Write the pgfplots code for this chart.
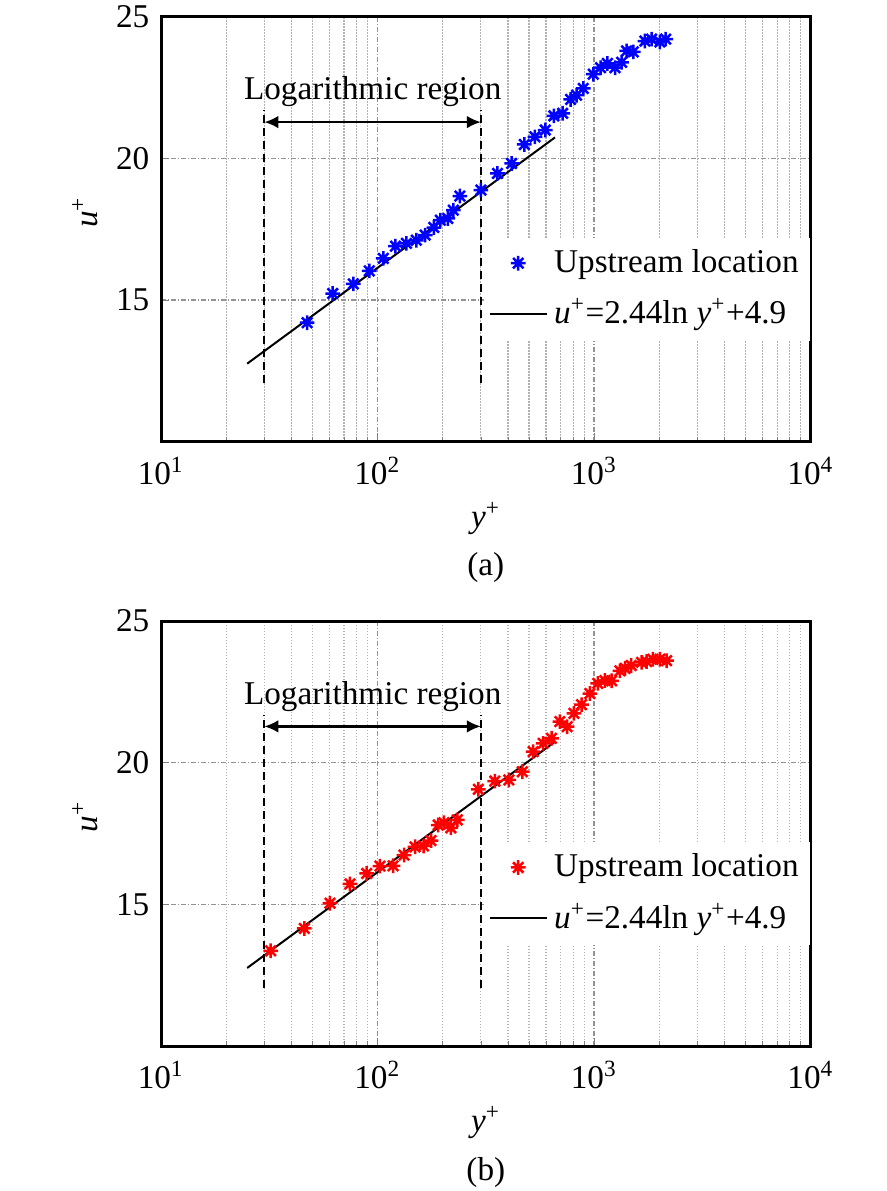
\documentclass[border=0pt]{standalone}
\usepackage{fontspec}
\setmainfont{Liberation Serif}
\usepackage{pgfplots}
\pgfplotsset{compat=1.18}
\usepackage{pgfplotstable}
\usetikzlibrary{arrows.meta}

\pgfdeclareplotmark{mstar}{%
  \pgfpathmoveto{\pgfpointpolar{0}{\pgfplotmarksize}}\pgfpathlineto{\pgfpointpolar{180}{\pgfplotmarksize}}%
  \pgfpathmoveto{\pgfpointpolar{90}{\pgfplotmarksize}}\pgfpathlineto{\pgfpointpolar{270}{\pgfplotmarksize}}%
  \pgfpathmoveto{\pgfpointpolar{45}{\pgfplotmarksize}}\pgfpathlineto{\pgfpointpolar{225}{\pgfplotmarksize}}%
  \pgfpathmoveto{\pgfpointpolar{135}{\pgfplotmarksize}}\pgfpathlineto{\pgfpointpolar{315}{\pgfplotmarksize}}%
  \pgfusepathqstroke}

\pgfplotstableread{
x y
47.3 14.2
62.1 15.23
77.3 15.57
91.6 16.03
106.3 16.47
121 16.90
136 17.0
151 17.11
166 17.29
182 17.56
195 17.82
211 17.88
224 18.17
240 18.67
300 18.88
358 19.47
416 19.82
476 20.49
533 20.76
595 21.0
652 21.50
716 21.59
779 22.08
830 22.23
891 22.47
991 22.97
1071 23.20
1151 23.35
1249 23.20
1340 23.39
1413 23.79
1517 23.76
1717 24.14
1842 24.21
2013 24.11
2141 24.21
}\dataA

\pgfplotstableread{
x y
32.1 13.36
45.9 14.15
60.3 15.04
74.6 15.72
89.1 16.09
102.6 16.35
118 16.36
132.5 16.74
149 17.03
163 17.06
176.6 17.25
190.7 17.80
202.6 17.88
218 17.70
233.5 17.98
292 19.06
348 19.35
404 19.39
466 19.68
523 20.39
582 20.68
636 20.86
695 21.45
751 21.27
807 21.74
875 22.05
956 22.44
1040 22.80
1122 22.90
1205 22.89
1316 23.24
1390 23.33
1484 23.43
1656 23.54
1750 23.57
1870 23.65
2013 23.65
2161 23.60
}\dataB

\begin{document}
\begin{tikzpicture}
\path[use as bounding box] (-48.3bp,132.51bp) rectangle (217.5bp,-224.79bp);

\begin{axis}[xmode=log, scale only axis, width=194.9bp, height=127.5bp,
    xmin=10, xmax=10000, ymin=10, ymax=25,
    clip=false, at={(0bp,0bp)}, anchor=south west,
    xtick={10,100,1000,10000},
    xticklabels={10\textsuperscript{1},10\textsuperscript{2},10\textsuperscript{3},10\textsuperscript{4}},
    minor xtick={20,30,40,50,60,70,80,90,200,300,400,500,600,700,800,900,2000,3000,4000,5000,6000,7000,8000,9000},
    ytick={15,20,25},
    yticklabels={15,20,25},
    tick pos=left, tick align=inside,
    xmajorgrids, xminorgrids, ymajorgrids,
    major grid style={gray!85, line width=0.45bp, dash pattern=on 1.5bp off 0.6bp on 0.3bp off 0.6bp},
    minor grid style={black!30, line width=0.35bp, dash pattern=on 0.4bp off 0.5bp},
    axis line style={line width=0.9bp},
    major tick length=2.5bp, minor tick length=1.5bp,
    xlabel={\textit{y}\textsuperscript{+}},
    ylabel={\textit{u}\textsuperscript{+}},
    xlabel style={at={(axis description cs:0.5,-0.18)}, anchor=center},
    ylabel style={at={(axis description cs:-0.117,0.54)}, anchor=center},
    xticklabel style={yshift=-1bp},
    legend cell align=left,
    legend style={at={(0.496,0.482)}, anchor=north west, draw=none, fill=white,
      inner sep=1.5bp, row sep=2.5bp}]
\addplot[forget plot, black, line width=0.6bp, dash pattern=on 2.4bp off 1.5bp] coordinates {(30,12.06) (30,21.7)};
\addplot[forget plot, black, line width=0.6bp, dash pattern=on 2.4bp off 1.5bp] coordinates {(300,12.06) (300,21.7)};
\addplot[forget plot, black, line width=0.7bp, {Latex[length=4.2bp,width=3.8bp]}-{Latex[length=4.2bp,width=3.8bp]}] coordinates {(30,21.28) (300,21.28)};
\addplot[only marks, mark=mstar, mark size=2.2bp, blue, line width=0.75bp] table[x=x,y=y] {\dataA};
\addlegendentry{Upstream location}
\addplot[black, line width=0.6bp] coordinates {(25,12.754) (660,20.74)};
\addlegendentry{\textit{u}\textsuperscript{+}=2.44ln \textit{y}\textsuperscript{+}+4.9}
\node at (axis cs:95,22.35) {Logarithmic region};
\node at (rel axis cs:0.5,-0.297) {(a)};
\end{axis}

\begin{axis}[xmode=log, scale only axis, width=194.9bp, height=127.5bp,
    xmin=10, xmax=10000, ymin=10, ymax=25,
    clip=false, at={(0bp,-181.29bp)}, anchor=south west,
    xtick={10,100,1000,10000},
    xticklabels={10\textsuperscript{1},10\textsuperscript{2},10\textsuperscript{3},10\textsuperscript{4}},
    minor xtick={20,30,40,50,60,70,80,90,200,300,400,500,600,700,800,900,2000,3000,4000,5000,6000,7000,8000,9000},
    ytick={15,20,25},
    yticklabels={15,20,25},
    tick pos=left, tick align=inside,
    xmajorgrids, xminorgrids, ymajorgrids,
    major grid style={gray!85, line width=0.45bp, dash pattern=on 1.5bp off 0.6bp on 0.3bp off 0.6bp},
    minor grid style={black!30, line width=0.35bp, dash pattern=on 0.4bp off 0.5bp},
    axis line style={line width=0.9bp},
    major tick length=2.5bp, minor tick length=1.5bp,
    xlabel={\textit{y}\textsuperscript{+}},
    ylabel={\textit{u}\textsuperscript{+}},
    xlabel style={at={(axis description cs:0.5,-0.18)}, anchor=center},
    ylabel style={at={(axis description cs:-0.117,0.54)}, anchor=center},
    xticklabel style={yshift=-1bp},
    legend cell align=left,
    legend style={at={(0.496,0.482)}, anchor=north west, draw=none, fill=white,
      inner sep=1.5bp, row sep=2.5bp}]
\addplot[forget plot, black, line width=0.6bp, dash pattern=on 2.4bp off 1.5bp] coordinates {(30,12.06) (30,21.7)};
\addplot[forget plot, black, line width=0.6bp, dash pattern=on 2.4bp off 1.5bp] coordinates {(300,12.06) (300,21.7)};
\addplot[forget plot, black, line width=0.7bp, {Latex[length=4.2bp,width=3.8bp]}-{Latex[length=4.2bp,width=3.8bp]}] coordinates {(30,21.28) (300,21.28)};
\addplot[only marks, mark=mstar, mark size=2.2bp, red, line width=0.75bp] table[x=x,y=y] {\dataB};
\addlegendentry{Upstream location}
\addplot[black, line width=0.6bp] coordinates {(25,12.754) (660,20.74)};
\addlegendentry{\textit{u}\textsuperscript{+}=2.44ln \textit{y}\textsuperscript{+}+4.9}
\node at (axis cs:95,22.35) {Logarithmic region};
\node at (rel axis cs:0.5,-0.297) {(b)};
\end{axis}
\end{tikzpicture}
\end{document}
